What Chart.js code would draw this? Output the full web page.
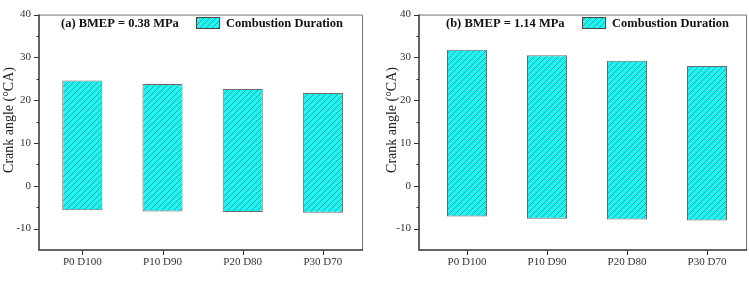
<!DOCTYPE html>
<html>
<head>
<meta charset="utf-8">
<script src="https://cdn.jsdelivr.net/npm/chart.js"></script>
<style>
  body { margin: 0; background: #fff; }
  #wrap { display: flex; width: 749px; height: 291px; }
  .panel { position: relative; height: 291px; }
</style>
</head>
<body>
<div id="wrap">
  <div class="panel" style="width:375px"><canvas id="chartA" width="375" height="291"></canvas></div>
  <div class="panel" style="width:374px"><canvas id="chartB" width="374" height="291"></canvas></div>
</div>
<script>
// ------ Dados ------
const categorias = ["P0 D100", "P10 D90", "P20 D80", "P30 D70"];
const inicioA = [-5.7, -6.0, -6.1, -6.3];   // BMEP 0.38 MPa
const fimA    = [24.6, 23.8, 22.6, 21.7];
const inicioB = [-7.2, -7.7, -7.9, -8.1];   // BMEP 1.14 MPa
const fimB    = [31.8, 30.5, 29.2, 28.0];
const yTicks  = [-10, 0, 10, 20, 30, 40];
const yMinor  = [-5, 5, 15, 25, 35];
const legenda = "Combustion Duration";
const tituloY = "Crank angle (\u00B0CA)";

const SERIF = "'Liberation Serif', 'Times New Roman', serif";

// ------ Hachura ------
function hachura(ctx) {
  const c = document.createElement("canvas");
  c.width = 6; c.height = 6;
  const g = c.getContext("2d");
  g.fillStyle = "#1ef4f4";
  g.fillRect(0, 0, 6, 6);
  g.strokeStyle = "#2c8e8e";
  g.lineWidth = 0.8;
  g.beginPath();
  g.moveTo(0, 6); g.lineTo(6, 0);
  g.moveTo(-1, 1); g.lineTo(1, -1);
  g.moveTo(5, 7); g.lineTo(7, 5);
  g.stroke();
  return ctx.createPattern(c, "repeat");
}

// ------ Moldura, ticks, título e legenda ------
const decor = {
  id: "decor",
  afterDraw(chart) {
    const { ctx, chartArea: a, scales: { x, y } } = chart;
    const cfg = chart.config.options.plugins.decor;
    ctx.save();
    // topo e direita
    ctx.strokeStyle = "#777";
    ctx.lineWidth = 1;
    ctx.beginPath();
    ctx.moveTo(a.left, a.top + 0.5);
    ctx.lineTo(a.right - 0.5, a.top + 0.5);
    ctx.lineTo(a.right - 0.5, a.bottom);
    ctx.stroke();
    // eixos
    ctx.strokeStyle = "#333";
    ctx.lineWidth = 1.5;
    ctx.beginPath();
    ctx.moveTo(a.left, a.top);
    ctx.lineTo(a.left, a.bottom);
    ctx.lineTo(a.right, a.bottom);
    ctx.stroke();
    ctx.lineWidth = 1;
    ctx.beginPath();
    yTicks.forEach(v => {
      const py = Math.round(y.getPixelForValue(v)) + 0.5;
      ctx.moveTo(a.left - 5, py); ctx.lineTo(a.left, py);
    });
    yMinor.forEach(v => {
      const py = Math.round(y.getPixelForValue(v)) + 0.5;
      ctx.moveTo(a.left - 2.5, py); ctx.lineTo(a.left, py);
    });
    categorias.forEach((_, i) => {
      const px = Math.round(x.getPixelForValue(i)) + 0.5;
      ctx.moveTo(px, a.bottom); ctx.lineTo(px, a.bottom + 5);
    });
    ctx.stroke();

    // título do painel
    ctx.fillStyle = "#111";
    ctx.font = "bold 12.5px " + SERIF;
    ctx.textBaseline = "middle";
    ctx.textAlign = "left";
    ctx.fillText(cfg.titulo, a.left + cfg.tituloX, 24);

    // legenda
    const bx = a.left + cfg.legX;
    ctx.fillStyle = chart.data.datasets[0].backgroundColor;
    ctx.fillRect(bx, 17.5, 23, 11);
    ctx.strokeStyle = "#444";
    ctx.strokeRect(bx + 0.5, 17.5, 23, 11);
    ctx.fillStyle = "#111";
    ctx.fillText(legenda, bx + 30, 23.5);

    // título do eixo y
    ctx.save();
    ctx.translate(cfg.yTitleX, 120);
    ctx.rotate(-Math.PI / 2);
    ctx.textAlign = "center";
    ctx.textBaseline = "middle";
    ctx.font = "14px " + SERIF;
    ctx.fillStyle = "#222";
    ctx.fillText(tituloY, 0, 0);
    ctx.restore();
    ctx.restore();
  }
};

function montarPainel(id, inicio, fim, opts) {
  const ctx = document.getElementById(id).getContext("2d");
  return new Chart(ctx, {
    type: "bar",
    data: {
      datasets: [{
        label: legenda,
        data: categorias.map((_, i) => ({ x: i, y: [inicio[i], fim[i]] })),
        backgroundColor: hachura(ctx),
        borderColor: "#6a6a6a",
        borderWidth: 1,
        borderSkipped: false,
        barPercentage: 0.5,
        categoryPercentage: 1.0,
      }],
    },
    options: {
      responsive: false,
      animation: false,
      layout: { padding: { left: 0, right: opts.padRight, top: 5, bottom: 0 } },
      plugins: {
        legend: { display: false },
        tooltip: { enabled: false },
        decor: opts,
      },
      scales: {
        x: {
          type: "linear",
          offset: false,
          min: opts.xMin,
          max: 3.5,
          afterBuildTicks: s => { s.ticks = categorias.map((_, i) => ({ value: i })); },
          afterFit: s => { s.height = 41; },
          grid: { display: false, drawTicks: false },
          border: { display: false },
          ticks: {
            padding: 6,
            color: "#333",
            font: { family: SERIF, size: 11 },
            callback: v => categorias[v],
          },
        },
        y: {
          min: -15,
          max: 40,
          afterBuildTicks: s => { s.ticks = yTicks.map(v => ({ value: v })); },
          afterFit: s => { s.width = opts.yWidth; },
          grid: { display: false, drawTicks: false },
          border: { display: false },
          ticks: {
            padding: 8,
            color: "#333",
            font: { family: SERIF, size: 11 },
          },
        },
      },
    },
    plugins: [decor],
  });
}

montarPainel("chartA", inicioA, fimA, {
  titulo: "(a) BMEP = 0.38 MPa", tituloX: 22, legX: 157,
  xMin: -0.54, yWidth: 39, padRight: 12, yTitleX: 9,
});
montarPainel("chartB", inicioB, fimB, {
  titulo: "(b) BMEP = 1.14 MPa", tituloX: 27, legX: 163,
  xMin: -0.6, yWidth: 44, padRight: 2, yTitleX: 17,
});
</script>
</body>
</html>
